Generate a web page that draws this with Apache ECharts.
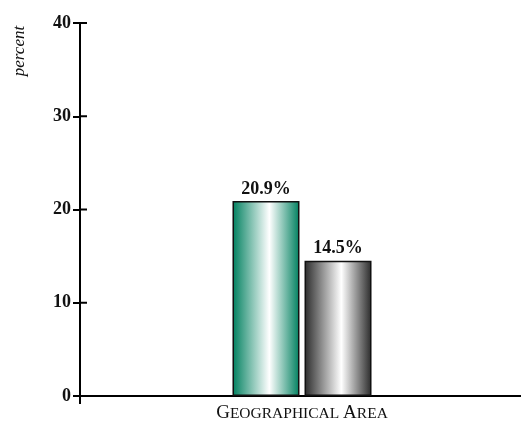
<!DOCTYPE html>
<html><head><meta charset="utf-8">
<script src="https://cdn.jsdelivr.net/npm/echarts@6/dist/echarts.min.js"></script>
<style>html,body{margin:0;padding:0;background:#fff}#c{width:521px;height:427px}</style>
</head><body><div id="c"></div>
<script>
const categories = ['Geographical Area'];
const seriesNames = ['Series A', 'Series B'];
const valuesA = [20.9];
const valuesB = [14.5];
const yTicks = [0, 10, 20, 30, 40];

const FONT = '"Liberation Serif", "DejaVu Serif", serif';
const chart = echarts.init(document.getElementById('c'));

function grad(edge, mid) {
  return new echarts.graphic.LinearGradient(0, 0, 1, 0, [
    {offset: 0, color: edge},
    {offset: 0.55, color: mid},
    {offset: 1, color: edge}
  ]);
}

chart.setOption({
  animation: false,
  grid: {left: 80, width: 444, top: 23, height: 373, containLabel: false, outerBoundsMode: 'none'},
  graphic: [{
    type: 'text',
    rotation: Math.PI / 2,
    x: 20, y: 51,
    style: {text: 'percent', font: 'italic 17px ' + FONT, fill: '#111', align: 'center', verticalAlign: 'middle'}
  }],
  xAxis: {
    type: 'category', data: categories,
    axisLine: {lineStyle: {color: '#000', width: 2}},
    axisTick: {show: true, length: 8, lineStyle: {color: '#000', width: 2}},
    axisLabel: {
      margin: 8,
      formatter: function (v) {
        return v.split(' ').map(w => '{b|' + w[0].toUpperCase() + '}{s|' + w.slice(1).toUpperCase() + '}').join('{s| }');
      },
      rich: {
        b: {fontFamily: FONT, fontSize: 19, color: '#111'},
        s: {fontFamily: FONT, fontSize: 15.5, color: '#111'}
      }
    }
  },
  yAxis: {
    type: 'value', min: 0, max: 40, interval: 10,
    splitLine: {show: false},
    axisLine: {show: true, lineStyle: {color: '#000', width: 2}},
    axisTick: {show: true, length: 7, lineStyle: {color: '#000', width: 2}},
    axisLabel: {margin: 9, fontFamily: FONT, fontWeight: 'bold', fontSize: 18, color: '#111',
      formatter: v => yTicks.includes(v) ? String(v) : ''}
  },
  series: [{
    name: seriesNames[0], type: 'bar', data: valuesA, barWidth: 67, barGap: '7.5%',
    itemStyle: {color: grad('#00805f', '#ffffff'), borderColor: '#111', borderWidth: 1.5},
    label: {show: true, position: 'top', distance: 3, formatter: p => p.value.toFixed(1) + '%',
      fontFamily: FONT, fontWeight: 'bold', fontSize: 18, color: '#111'}
  }, {
    name: seriesNames[1], type: 'bar', data: valuesB, barWidth: 67,
    itemStyle: {color: grad('#2a2a2a', '#ffffff'), borderColor: '#111', borderWidth: 1.5},
    label: {show: true, position: 'top', distance: 3, formatter: p => p.value.toFixed(1) + '%',
      fontFamily: FONT, fontWeight: 'bold', fontSize: 18, color: '#111'}
  }, {
    name: 'innerTicks', type: 'custom', silent: true, z: 10, clip: false,
    data: yTicks.map(v => [0, v]),
    encode: {x: 0, y: 1},
    renderItem: function (params, api) {
      const y = api.coord([0, api.value(1)])[1];
      const x0 = params.coordSys.x;
      return {
        type: 'line',
        shape: {x1: x0, y1: y, x2: x0 + 7, y2: y},
        style: {stroke: '#000', lineWidth: 2}
      };
    }
  }]
});
</script></body></html>
